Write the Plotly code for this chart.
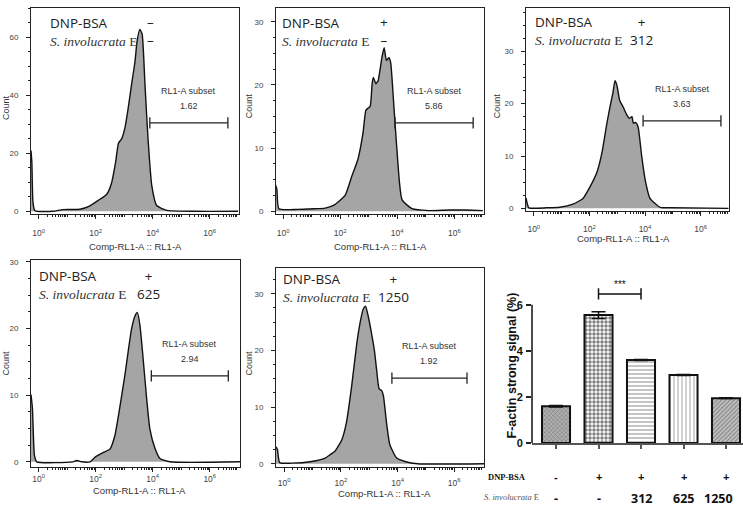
import plotly.graph_objects as go
import math

W, H = 743, 511

# ---------------- data ----------------
# histograms: x in decades of Comp-RL1-A (10^x), y = Count
h1_x = [-0.27, -0.24, -0.2, -0.13, 0.5, 0.85, 1.45, 1.8, 2.08, 2.39, 2.55, 2.7, 2.8, 2.91, 3.03, 3.14,
        3.26, 3.38, 3.45, 3.55, 3.63, 3.73, 3.84, 3.97, 4.14, 4.5, 5.5, 7.0]
h1_y = [21, 17, 3, 0.2, 0, 0.6, 0.7, 1.9, 3.7, 5.9, 9.5, 17, 23.5, 25.0, 29.0, 35.5,
        43.8, 51.7, 58.5, 62.8, 61.2, 43.8, 24.6, 8.8, 2.0, 0.3, 0, 0]

h2_x = [-0.27, -0.22, -0.15, 0.5, 1.1, 1.47, 1.8, 2.17, 2.41, 2.62, 2.8, 2.9, 2.97, 3.05, 3.12, 3.16,
        3.25, 3.33, 3.46, 3.54, 3.62, 3.71, 3.77, 3.87, 3.99, 4.17, 4.52, 5.1, 5.8, 6.4, 7.0]
h2_y = [4.2, 3.5, 0.4, 0.3, 0.4, 0.5, 1.0, 2.5, 5.6, 8.2, 12.4, 16.0, 16.3, 16.6, 20.2, 21.2,
        20.2, 20.7, 24.3, 25.9, 23.9, 24.3, 23.5, 17.4, 9.6, 1.8, 0.4, 0.1, 0.2, 0.2, 0.1]

h3_x = [-0.28, -0.24, -0.18, 0.47, 0.94, 1.41, 1.77, 2.02, 2.27, 2.45, 2.63, 2.74, 2.84, 2.92, 2.99,
        3.09, 3.21, 3.35, 3.43, 3.53, 3.58, 3.67, 3.75, 3.88, 4.0, 4.18, 4.54, 4.9, 7.0]
h3_y = [2.0, 1.0, 0.1, 0.1, 0.2, 0.8, 1.9, 4.1, 6.9, 10.6, 16.3, 19.4, 21.9, 24.4, 23.5,
        20.6, 19.4, 17.8, 17.2, 17.5, 16.3, 16.4, 15.6, 10.0, 5.6, 1.9, 0.2, 0.1, 0]

h4_x = [-0.27, -0.22, -0.15, -0.07, 1.2, 1.33, 1.5, 1.8, 1.98, 2.27, 2.5, 2.67, 2.85, 3.03, 3.14,
        3.26, 3.38, 3.46, 3.55, 3.66, 3.79, 3.9, 4.08, 4.25, 4.6, 7.06]
h4_y = [10.1, 8, 1, 0, 0, 0.2, 0, 0, 0.7, 1.4, 1.9, 3.9, 8.3, 13.2, 16.6,
        20.0, 21.9, 22.4, 20.5, 15.6, 9.3, 4.9, 2.0, 0.5, 0, 0]

h5_x = [-0.29, -0.24, -0.16, 0.26, 0.97, 1.44, 1.62, 1.79, 2.03, 2.2, 2.38, 2.56, 2.67, 2.79, 2.87,
        2.97, 3.06, 3.18, 3.26, 3.35, 3.44, 3.5, 3.62, 3.73, 3.97, 4.26, 4.7, 7.05]
h5_y = [3.0, 2.5, 0.2, 0.1, 0.4, 1.0, 1.6, 2.2, 4.2, 7.4, 13.7, 21.2, 24.7, 27.3, 27.8,
        25.9, 23.6, 20.1, 16.6, 13.2, 12.9, 12.0, 6.8, 3.3, 1.0, 0.4, 0, 0]

hist_x = [h1_x, h2_x, h3_x, h4_x, h5_x]
hist_y = [h1_y, h2_y, h3_y, h4_y, h5_y]

gate_lo = [3.90, 3.92, 3.93, 3.95, 3.80]
gate_hi = [6.64, 6.66, 6.73, 6.65, 6.45]
gate_y = [30.5, 14.0, 16.7, 12.9, 15.1]
gate_pct = ["1.62", "5.86", "3.63", "2.94", "1.92"]

panel_dnp = ["\u2013", "+", "+", "+", "+"]
panel_sie = ["\u2013", "\u2013", "312", "625", "1250"]

x_tickvals = [0, 2, 4, 6]
x_ticktext = ["10<sup>0</sup>", "10<sup>2</sup>", "10<sup>4</sup>", "10<sup>6</sup>"]
y_tickvals = [[0, 20, 40, 60], [0, 10, 20, 30], [0, 10, 20, 30], [0, 10, 20, 30], [0, 10, 20, 30]]

# bar chart
bar_pos = [0, 1, 2, 3, 4]
bar_vals = [1.6, 5.55, 3.6, 2.95, 1.95]
bar_err = [0.03, 0.15, 0.02, 0.02, 0.02]
dnp_row = ["-", "+", "+", "+", "+"]
sie_row = ["-", "-", "312", "625", "1250"]
bar_ticks = [0, 2, 4, 6]

# ---------------- layout helpers ----------------
def fx(px):
    return px / W

def fy(py):
    return 1 - py / H

boxes = [(31, 239, 5, 215), (276, 484, 5, 215), (526, 729, 5, 212), (31, 240, 262, 472), (276, 484, 270, 472)]
xranges = [(-0.27, 7.03), (-0.25, 7.04), (-0.28, 7.02), (-0.27, 7.06), (-0.29, 7.05)]
yranges = [(-1.0, 70.2), (-0.47, 32.2), (-0.56, 38.3), (-0.73, 30.2), (-0.52, 34.5)]
yminor = [5, 2.5, 2.5, 2.5, 2.5]
xlab_standoff = [7, 7, 6, 0, 4]

# (left x, line1 y, line2 y, sign column x center)
legend_pos = [(48, 21, 37, 150), (280, 21, 37, 384), (533, 20, 36, 641),
              (37, 279, 295, 148), (281, 282, 298, 393)]
count_pos = [(6, 107), (249, 105), (497, 105), (6, 367), (249, 367)]
xtitle_pos = [(135, 248), (380, 248), (623, 240), (139, 496), (384, 499)]

minor_x = []
for n in range(0, 7):
    for k in range(2, 10):
        v = n + math.log10(k)
        if v < 7.0:
            minor_x.append(v)
for n in [1, 3, 5]:
    minor_x.append(n)

fig = go.Figure()
layout = dict(width=W, height=H, margin=dict(l=0, r=0, t=0, b=0),
              paper_bgcolor="white", plot_bgcolor="white", showlegend=False,
              annotations=[], shapes=[])

SANS = "Liberation Sans, Arial, sans-serif"
OPEN = "Open Sans, Noto Sans, sans-serif"
SERIF = "Liberation Serif, Times New Roman, serif"

for i in range(5):
    n = i + 1
    xa = "x" if n == 1 else f"x{n}"
    ya = "y" if n == 1 else f"y{n}"
    xk = "xaxis" if n == 1 else f"xaxis{n}"
    yk = "yaxis" if n == 1 else f"yaxis{n}"
    x0, x1, y0, y1 = boxes[i]
    layout[xk] = dict(domain=[fx(x0), fx(x1)], range=list(xranges[i]), anchor=ya,
                      showline=True, mirror=True, linecolor="#222", linewidth=1,
                      ticks="outside", ticklen=4, tickcolor="#222", tickwidth=1,
                      tickvals=x_tickvals, ticktext=x_ticktext,
                      tickfont=dict(family=SANS, size=8.5, color="#444"),
                      ticklabelstandoff=xlab_standoff[i],
                      minor=dict(tickvals=minor_x, ticks="outside", ticklen=2, tickcolor="#222"),
                      showgrid=False, zeroline=False, fixedrange=True)
    layout[yk] = dict(domain=[fy(y1), fy(y0)], range=list(yranges[i]), anchor=xa,
                      showline=True, mirror=True, linecolor="#222", linewidth=1,
                      ticks="outside", ticklen=4, tickcolor="#222",
                      tickvals=y_tickvals[i],
                      tickfont=dict(family=SANS, size=8, color="#444"),
                      ticklabelstandoff=6,
                      minor=dict(dtick=yminor[i], ticks="outside", ticklen=2, tickcolor="#222"),
                      showgrid=False, zeroline=False, fixedrange=True)
    fig.add_trace(go.Scatter(x=hist_x[i], y=hist_y[i], xaxis=xa, yaxis=ya, mode="lines",
                             line=dict(color="#111", width=1.4, shape="spline", smoothing=0.5),
                             fill="tozeroy", fillcolor="#a5a5a5", hoverinfo="skip"))
    # gate
    fig.add_trace(go.Scatter(x=[gate_lo[i], gate_hi[i]], y=[gate_y[i], gate_y[i]], xaxis=xa, yaxis=ya,
                             mode="lines+markers", line=dict(color="#222", width=1.3),
                             marker=dict(symbol="line-ns", size=8, line=dict(color="#222", width=1.3)),
                             hoverinfo="skip"))
    gm = (gate_lo[i] + gate_hi[i]) / 2
    layout["annotations"].append(dict(x=gm, y=gate_y[i], xref=xa, yref=ya, text="RL1-A subset",
                                      showarrow=False, yshift=32, xanchor="center", yanchor="middle",
                                      font=dict(family=SANS, size=9, color="#333")))
    layout["annotations"].append(dict(x=gm, y=gate_y[i], xref=xa, yref=ya, text=gate_pct[i],
                                      showarrow=False, yshift=17, xanchor="center", yanchor="middle",
                                      font=dict(family=SANS, size=9, color="#333")))
    # legend-like labels (two lines per block)
    lx, ly1, ly2, sx = legend_pos[i]
    ym = (ly1 + ly2) / 2
    layout["annotations"].append(dict(
        x=fx(lx), y=fy(ym), xref="paper", yref="paper",
        text="DNP-BSA<br><span style='font-family:Liberation Serif, Times New Roman, serif;color:#333'>"
             "<i>S. involucrata</i> E</span>",
        showarrow=False, xanchor="left", yanchor="middle", align="left",
        font=dict(family=OPEN, size=13.5, color="#222")))
    layout["annotations"].append(dict(
        x=fx(sx), y=fy(ym), xref="paper", yref="paper",
        text=f"{panel_dnp[i]}<br>{panel_sie[i]}",
        showarrow=False, xanchor="center", yanchor="middle", align="center",
        font=dict(family=OPEN, size=13.5, color="#222")))
    cx, cy = count_pos[i]
    layout["annotations"].append(dict(x=fx(cx), y=fy(cy), xref="paper", yref="paper", text="Count",
                                      showarrow=False, textangle=-90, xanchor="center", yanchor="middle",
                                      font=dict(family=SANS, size=9, color="#333")))
    tx, ty = xtitle_pos[i]
    layout["annotations"].append(dict(x=fx(tx), y=fy(ty), xref="paper", yref="paper",
                                      text="Comp-RL1-A :: RL1-A",
                                      showarrow=False, xanchor="center", yanchor="middle",
                                      font=dict(family=SANS, size=9.5, color="#333")))

# ---------------- bar chart ----------------
layout["xaxis6"] = dict(domain=[fx(532), 1.0], range=[-0.565, 4.4], anchor="y6",
                        showline=True, linecolor="#555", linewidth=1.5,
                        ticks="outside", ticklen=4, tickwidth=1.5, tickcolor="#555",
                        tickvals=bar_pos, showticklabels=False,
                        showgrid=False, zeroline=False, fixedrange=True)
layout["yaxis6"] = dict(domain=[fy(448), fy(286)], range=[0, 6.9], anchor="x6",
                        showline=False, ticks="outside", ticklen=5, tickwidth=1.5, tickcolor="#222",
                        tickvals=bar_ticks,
                        tickfont=dict(family=SANS, size=11, color="#111", weight="bold"),
                        ticklabelstandoff=1,
                        showgrid=False, zeroline=False, fixedrange=True)

fig.add_trace(go.Bar(x=bar_pos, y=bar_vals, xaxis="x6", yaxis="y6", width=0.66,
                     error_y=dict(type="data", array=bar_err, color="#111", thickness=1.5, width=7),
                     marker=dict(color="white", line=dict(color="#111", width=2),
                                 pattern=dict(shape=["x", ".", "-", "|", "/"],
                                              fgcolor=["#444", "#000", "#555", "#666", "#444"],
                                              bgcolor=["#b0b0b0", "white", "white", "white", "#c0c0c0"],
                                              size=[3, 4, 4, 4, 3],
                                              solidity=[0.35, 0.6, 0.35, 0.3, 0.35])),
                     hoverinfo="skip"))

# significance bracket between bar 2 and bar 3
sig_y = 6.47
fig.add_trace(go.Scatter(x=[bar_pos[1], bar_pos[2]], y=[sig_y, sig_y], xaxis="x6", yaxis="y6",
                         mode="lines+markers", line=dict(color="#111", width=1.5),
                         marker=dict(symbol="line-ns", size=8, line=dict(color="#111", width=1.5)),
                         hoverinfo="skip"))
layout["annotations"].append(dict(x=(bar_pos[1] + bar_pos[2]) / 2, y=sig_y, xref="x6", yref="y6",
                                  text="***", showarrow=False, yshift=9, xanchor="center", yanchor="middle",
                                  font=dict(family=SANS, size=10, color="#111")))

# y axis line (0..6)
layout["shapes"].append(dict(type="line", xref="x6 domain", yref="y6", x0=0, x1=0, y0=0, y1=6,
                             line=dict(color="#111", width=1.5)))

layout["annotations"].append(dict(x=fx(512), y=fy(369), xref="paper", yref="paper",
                                  text="<b>F-actin strong signal (%)</b>", textangle=-90, showarrow=False,
                                  xanchor="center", yanchor="middle",
                                  font=dict(family=SANS, size=12.5, color="#111")))
layout["annotations"].append(dict(x=fx(507), y=fy(482), xref="paper", yref="paper",
                                  text="<b>DNP-BSA</b>", showarrow=False, xanchor="center", yanchor="middle",
                                  font=dict(family=SERIF, size=8.5, color="#111")))
layout["annotations"].append(dict(x=fx(511), y=fy(503), xref="paper", yref="paper",
                                  text="<i>S. involucrata</i> E", showarrow=False,
                                  xanchor="center", yanchor="middle",
                                  font=dict(family=SERIF, size=8.5, color="#555")))
for p, d, s in zip(bar_pos, dnp_row, sie_row):
    layout["annotations"].append(dict(x=p, y=fy(482), xref="x6", yref="paper", text=f"<b>{d}</b>",
                                      showarrow=False, xanchor="center", yanchor="middle",
                                      font=dict(family=SANS, size=11, color="#111")))
    layout["annotations"].append(dict(x=p, y=fy(504), xref="x6", yref="paper", text=f"<b>{s}</b>",
                                      showarrow=False, xshift=(-8 if s == "1250" else 0),
                                      xanchor="center", yanchor="middle",
                                      font=dict(family=OPEN, size=12.5, color="#111")))

fig.update_layout(**layout)
fig.write_html("out.html")
